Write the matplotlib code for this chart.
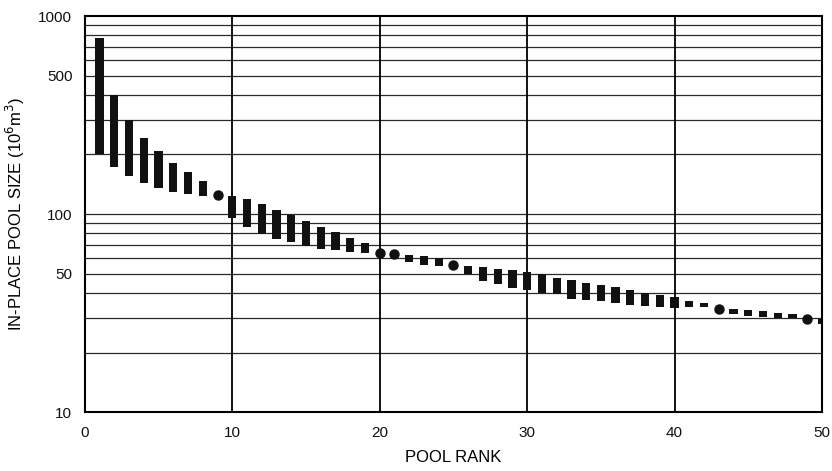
import numpy as np
import matplotlib.pyplot as plt
from matplotlib.ticker import FixedLocator, NullFormatter

# pool rank vs in-place pool size, range for each pool (10^6 m^3)
ranks = np.arange(1, 51)
size_low = [200, 172, 155, 144, 136, 130, 126, 124, 125, 95,
            86, 79, 75, 72, 69, 67, 66, 64, 63.5, 63.7,
            62.6, 57.5, 55.6, 54.5, 55.1, 49.9, 46.0, 44.4, 42.4, 41.2,
            39.8, 39.4, 37.3, 37.0, 36.3, 35.7, 34.8, 34.2, 33.9, 33.7,
            34.0, 33.8, 33.1, 31.3, 30.7, 30.3, 29.9, 29.8, 29.4, 27.9]
size_high = [770, 400, 298, 243, 208, 182, 163, 147, 125, 124,
             119, 112, 105, 99, 92, 86, 81.5, 76, 71.4, 63.7,
             62.6, 62.2, 61.1, 60.0, 55.1, 54.7, 53.8, 52.8, 51.9, 50.7,
             49.6, 47.7, 46.6, 44.9, 43.8, 42.8, 41.3, 39.8, 39.1, 38.1,
             36.5, 35.7, 33.1, 33.1, 32.7, 32.3, 31.8, 31.3, 29.4, 29.4]
# pools known only as a single value are drawn as dots
single = [9, 20, 21, 25, 43, 49]

y_ticks = [10, 50, 100, 500, 1000]
x_ticks = [0, 10, 20, 30, 40, 50]

plt.rcParams['font.family'] = ['Liberation Sans', 'DejaVu Sans']

fig = plt.figure(figsize=(8.32, 4.71), dpi=100)
ax = fig.add_axes([0.102, 0.125, 0.886, 0.841])
ax.set_yscale('log')
ax.set_xlim(0, 50)
ax.set_ylim(10, 1000)

# grid: log minor lines across, decade lines at 10s of rank
grid_y = [v * d for d in (10, 100) for v in range(2, 10)] + [100]
for g in grid_y:
    ax.axhline(g, color='#2a2a2a', lw=0.9, zorder=1)
for gx in x_ticks[1:-1]:
    ax.axvline(gx, color='black', lw=1.3, zorder=1)

low = np.array(size_low, dtype=float)
high = np.array(size_high, dtype=float)
is_dot = np.isin(ranks, single)

# ranges as bars; tiny ranges still get a small block
bar_lo = low.copy()
bar_hi = np.maximum(high, low * 1.05)
ax.bar(ranks[~is_dot], bar_hi[~is_dot] - bar_lo[~is_dot], bottom=bar_lo[~is_dot],
       width=0.56, color='#111111', zorder=3)
ax.plot(ranks[is_dot], low[is_dot], 'o', color='#111111', ms=6.5, zorder=3,
        clip_on=False)

ax.yaxis.set_major_locator(FixedLocator(y_ticks))
ax.set_yticklabels([str(t) for t in y_ticks])
ax.yaxis.set_minor_formatter(NullFormatter())
ax.yaxis.set_minor_locator(FixedLocator([]))
ax.set_xticks(x_ticks)
ax.tick_params(axis='both', length=0, labelsize=11, colors='#111111')
ax.tick_params(axis='x', pad=10)
ax.tick_params(axis='y', pad=9)

for s in ax.spines.values():
    s.set_linewidth(1.5)
    s.set_color('black')
    s.set_zorder(4)

ax.set_xlabel('POOL RANK', fontsize=12, labelpad=7)
ax.set_ylabel(r'IN-PLACE POOL SIZE (10$^{6}$m$^{3}$)', fontsize=12)
ax.yaxis.set_label_coords(-0.078, 0.5)

fig.savefig('out.png', dpi=100)
